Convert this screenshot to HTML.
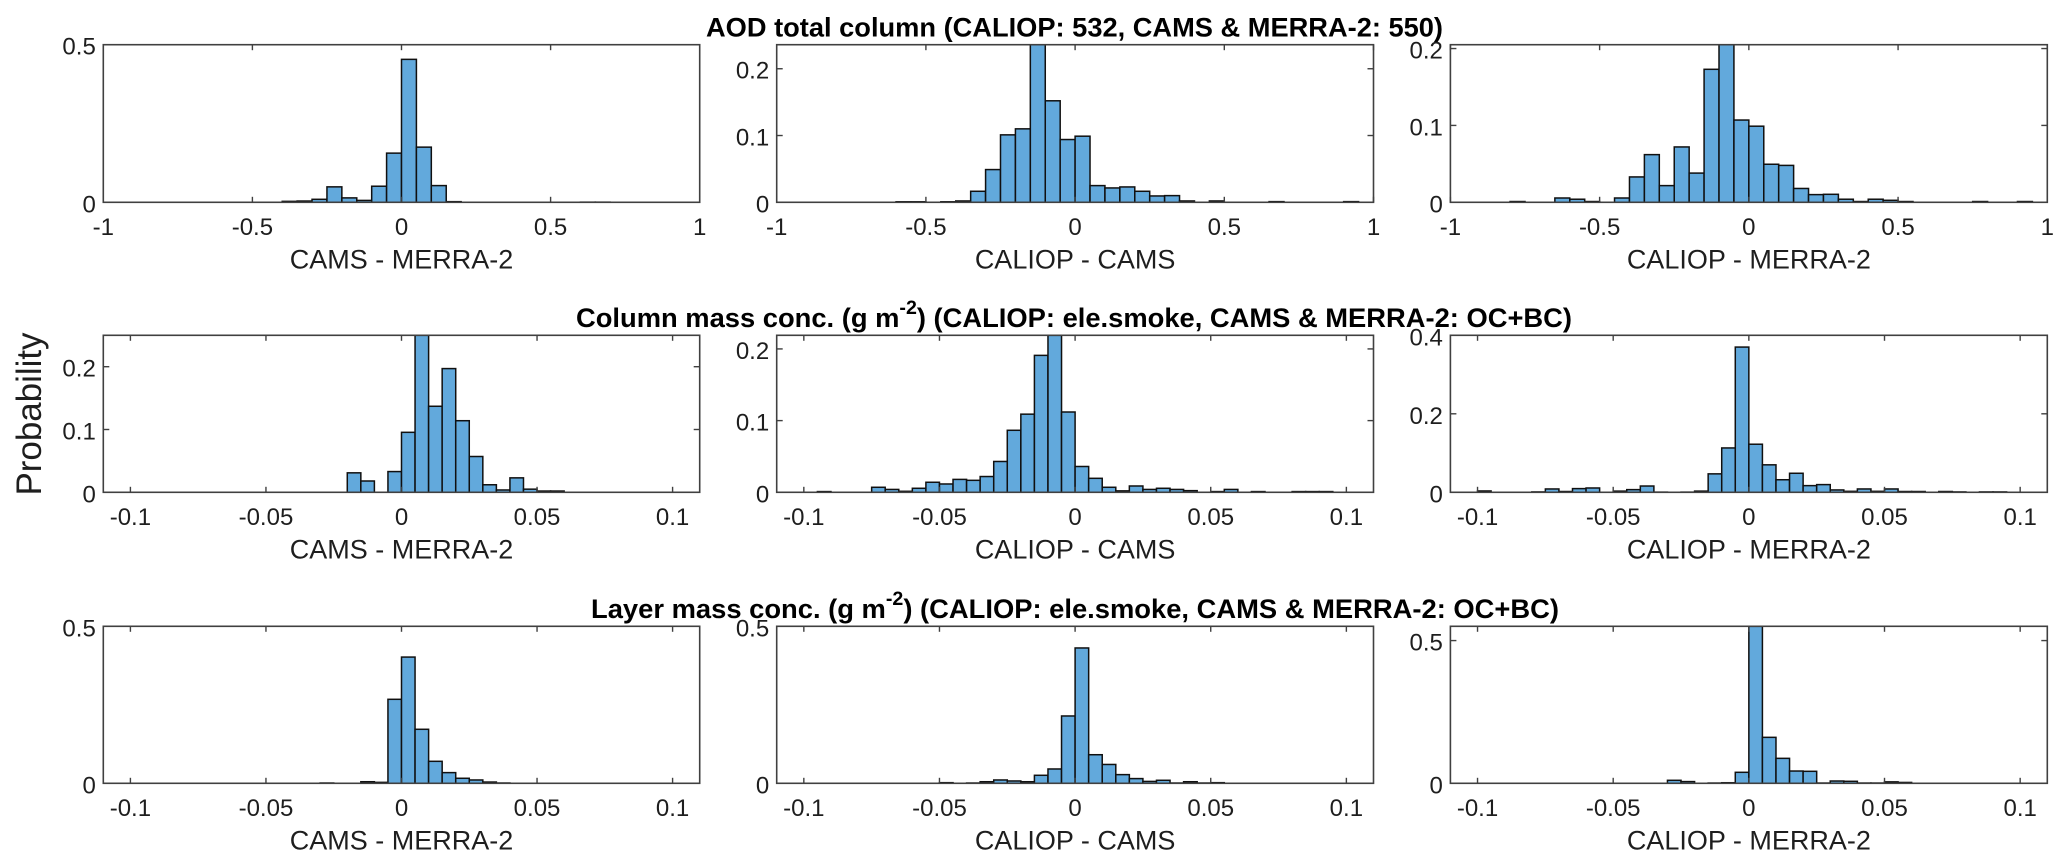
<!DOCTYPE html>
<html lang="en">
<head>
<meta charset="utf-8">
<title>Probability histograms of AOD and smoke mass differences</title>
<style>
html,body{margin:0;padding:0;background:#fff;}
body{width:2067px;height:868px;overflow:hidden;}
svg{display:block;filter:blur(0.35px);}
text{font-family:"Liberation Sans",Arial,sans-serif;fill:#1e1e1e;}
.title{font-weight:bold;font-size:26.5px;fill:#000;}
.sup{font-size:19px;}
</style>
</head>
<body>
<svg id="chart" width="2067" height="868" viewBox="0 0 2067 868" xmlns="http://www.w3.org/2000/svg">
  <rect x="0" y="0" width="2067" height="868" fill="#ffffff"/>
  <text class="title" x="706" y="36.5" textLength="737" lengthAdjust="spacingAndGlyphs">AOD total column (CALIOP: 532, CAMS &amp; MERRA-2: 550)</text>
  <text class="title" x="576" y="327" textLength="996" lengthAdjust="spacingAndGlyphs">Column mass conc. (g m<tspan class="sup" dy="-13">-2</tspan><tspan dy="13">) (CALIOP: ele.smoke, CAMS &amp; MERRA-2: OC+BC)</tspan></text>
  <text class="title" x="591" y="618" textLength="968" lengthAdjust="spacingAndGlyphs">Layer mass conc. (g m<tspan class="sup" dy="-13">-2</tspan><tspan dy="13">) (CALIOP: ele.smoke, CAMS &amp; MERRA-2: OC+BC)</tspan></text>
  <text x="0" y="0" transform="translate(41,495.5) rotate(-90)" font-size="35" textLength="163" lengthAdjust="spacingAndGlyphs">Probability</text>
</svg>
<script>
// Probability per bin. Row 1 bins: 40 bins of 0.05 over -1..1. Rows 2-3 bins: 40 bins of 0.005 over -0.1..0.1.
const aodCamsMerra = [0,0,0,0,0,0,0,0,0,0,0,0,.003,.004,.0095,.049,.014,.006,.051,.156,.4535,.175,.053,.002,0,0,0,0,0,0,0,0,.0005,.0005,0,0,0,0,0,0];
const aodCaliopCams = [0,0,0,0,0,0,0,0,.0008,.0008,0,.0008,.002,.0165,.049,.101,.110,.236,.152,.094,.099,.025,.0215,.023,.0165,.0095,.01,.002,0,.002,0,0,0,.001,0,0,0,0,.001,0];
const aodCaliopMerra = [0,0,0,0,.001,0,0,.0056,.004,.001,0,.0056,.033,.062,.0217,.072,.038,.173,.205,.107,.099,.0495,.048,.018,.01,.0104,.004,.001,.004,.0026,.001,0,0,0,0,.001,0,0,.001,0];
const columnCamsMerra = [0,0,0,0,0,0,0,0,0,0,0,0,0,0,0,0,.031,.018,0,.033,.0955,.25,.137,.197,.114,.057,.012,.0037,.023,.005,.002,.002,0,0,0,0,0,0,0,0];
const columnCaliopCams = [0,.001,0,0,0,.007,.004,.0014,.0056,.014,.0116,.018,.0167,.022,.043,.0865,.109,.191,.219,.112,.036,.0195,.007,.002,.0088,.004,.0056,.004,.0023,0,.001,.004,0,.001,0,0,.001,.001,.001,0];
const columnCaliopMerra = [.0034,0,0,0,.001,.0085,.002,.0094,.011,0,.003,.0068,.016,.0005,0,.0005,.003,.047,.113,.37,.1225,.07,.032,.0485,.017,.0196,.006,.0025,.0085,.0025,.0085,.002,.002,0,.002,.001,0,.001,.001,0];
const layerCamsMerra = [0,0,0,0,0,0,0,0,0,0,0,0,0,0,.001,0,0,.005,.003,.2675,.402,.172,.07,.034,.016,.0106,.004,.001,0,0,0,0,0,0,0,0,0,0,0,0];
const layerCaliopCams = [0,0,0,0,0,0,0,0,0,0,.002,0,.001,.005,.0106,.0074,.005,.0255,.0456,.2144,.431,.091,.06,.0276,.015,.006,.0096,.001,.005,.001,.002,0,0,0,0,0,0,0,0,0];
const layerCaliopMerra = [0,0,0,0,0,0,0,0,0,0,0,0,0,0,.0105,.006,0,.001,.002,.0385,.55,.161,.0874,.043,.042,.001,.008,.007,.001,.001,.005,.003,0,0,0,0,0,0,0,0];

const aodXTicks = [-1,-0.5,0,0.5,1];
const massXTicks = [-0.1,-0.05,0,0.05,0.1];
const aodCamsMerraYTicks = [0,0.5];
const aodCaliopCamsYTicks = [0,0.1,0.2];
const aodCaliopMerraYTicks = [0,0.1,0.2];
const columnCamsMerraYTicks = [0,0.1,0.2];
const columnCaliopCamsYTicks = [0,0.1,0.2];
const columnCaliopMerraYTicks = [0,0.2,0.4];
const layerCamsMerraYTicks = [0,0.5];
const layerCaliopCamsYTicks = [0,0.5];
const layerCaliopMerraYTicks = [0,0.5];

const NS = 'http://www.w3.org/2000/svg';
const svg = document.getElementById('chart');
const columns = [{l:103.3,r:699.7},{l:776.7,r:1373.5},{l:1450.4,r:2047.3}];
const rows = [{t:44.7,b:202.3},{t:335.3,b:492.3},{t:626.3,b:783.3}];
const AXIS = '#404040';

function make(tag, attrs, parent){
  const el = document.createElementNS(NS, tag);
  for (const k in attrs) el.setAttribute(k, attrs[k]);
  parent.appendChild(el);
  return el;
}

function drawPanel(cfg){
  const c = columns[cfg.col], r = rows[cfg.row];
  const xs = v => c.l + (v - cfg.xMin) / (cfg.xMax - cfg.xMin) * (c.r - c.l);
  const ys = v => r.b - v / cfg.yMax * (r.b - r.t);

  const g = make('g', {}, svg);
  
  

  const clipId = 'clip-' + cfg.name;
  const clip = make('clipPath', {id: clipId}, g);
  make('rect', {x:c.l, y:r.t, width:c.r-c.l, height:r.b-r.t}, clip);

  const bars = make('g', {'clip-path':'url(#' + clipId + ')'}, g);
  
  
  cfg.values.forEach((v, i) => {
    const x0 = xs(cfg.binStart + i * cfg.binWidth);
    const x1 = xs(cfg.binStart + (i + 1) * cfg.binWidth);
    const y = ys(v);
    const bar = make('rect', {x:x0, y:y, width:x1-x0, height:r.b-y, fill:'#62a9dc', stroke:'#101010', 'stroke-width':1.5}, bars);
    
    
  });

  const box = make('rect', {x:c.l, y:r.t, width:c.r-c.l, height:r.b-r.t, fill:'none', stroke:AXIS, 'stroke-width':1.6}, g);
  
  

  cfg.xTicks.forEach(t => {
    const x = xs(t);
    const m1 = make('line', {x1:x, x2:x, y1:r.b, y2:r.b-5.5, stroke:AXIS, 'stroke-width':1.4}, g);
    
    
    const m2 = make('line', {x1:x, x2:x, y1:r.t, y2:r.t+5.5, stroke:AXIS, 'stroke-width':1.4}, g);
    
    
    const lab = make('text', {x:x, y:r.b+32.5, 'text-anchor':'middle', 'font-size':24}, g);
    
    
    lab.textContent = String(t);
  });

  cfg.yTicks.forEach(t => {
    const y = ys(t);
    const m1 = make('line', {x1:c.l, x2:c.l+6, y1:y, y2:y, stroke:AXIS, 'stroke-width':1.4}, g);
    
    
    const m2 = make('line', {x1:c.r, x2:c.r-6, y1:y, y2:y, stroke:AXIS, 'stroke-width':1.4}, g);
    
    
    const lab = make('text', {x:c.l-7.5, y:y+10, 'text-anchor':'end', 'font-size':24}, g);
    
    
    lab.textContent = String(t);
  });

  const xl = make('text', {x:(c.l+c.r)/2, y:r.b+66, 'text-anchor':'middle', 'font-size':27}, g);
  
  
  xl.textContent = cfg.xLabel;
}

const aodRange = {xMin:-1, xMax:1, binStart:-1, binWidth:0.05, xTicks:aodXTicks};
const massRange = {xMin:-0.11, xMax:0.11, binStart:-0.1, binWidth:0.005, xTicks:massXTicks};

drawPanel({...aodRange, name:'panel-aod-cams-merra', col:0, row:0, yMax:0.5, yTicks:aodCamsMerraYTicks, values:aodCamsMerra, xLabel:'CAMS - MERRA-2'});
drawPanel({...aodRange, name:'panel-aod-caliop-cams', col:1, row:0, yMax:0.236, yTicks:aodCaliopCamsYTicks, values:aodCaliopCams, xLabel:'CALIOP - CAMS'});
drawPanel({...aodRange, name:'panel-aod-caliop-merra', col:2, row:0, yMax:0.205, yTicks:aodCaliopMerraYTicks, values:aodCaliopMerra, xLabel:'CALIOP - MERRA-2'});
drawPanel({...massRange, name:'panel-column-cams-merra', col:0, row:1, yMax:0.25, yTicks:columnCamsMerraYTicks, values:columnCamsMerra, xLabel:'CAMS - MERRA-2'});
drawPanel({...massRange, name:'panel-column-caliop-cams', col:1, row:1, yMax:0.219, yTicks:columnCaliopCamsYTicks, values:columnCaliopCams, xLabel:'CALIOP - CAMS'});
drawPanel({...massRange, name:'panel-column-caliop-merra', col:2, row:1, yMax:0.4, yTicks:columnCaliopMerraYTicks, values:columnCaliopMerra, xLabel:'CALIOP - MERRA-2'});
drawPanel({...massRange, name:'panel-layer-cams-merra', col:0, row:2, yMax:0.5, yTicks:layerCamsMerraYTicks, values:layerCamsMerra, xLabel:'CAMS - MERRA-2'});
drawPanel({...massRange, name:'panel-layer-caliop-cams', col:1, row:2, yMax:0.5, yTicks:layerCaliopCamsYTicks, values:layerCaliopCams, xLabel:'CALIOP - CAMS'});
drawPanel({...massRange, name:'panel-layer-caliop-merra', col:2, row:2, yMax:0.55, yTicks:layerCaliopMerraYTicks, values:layerCaliopMerra, xLabel:'CALIOP - MERRA-2'});
</script>
</body>
</html>
